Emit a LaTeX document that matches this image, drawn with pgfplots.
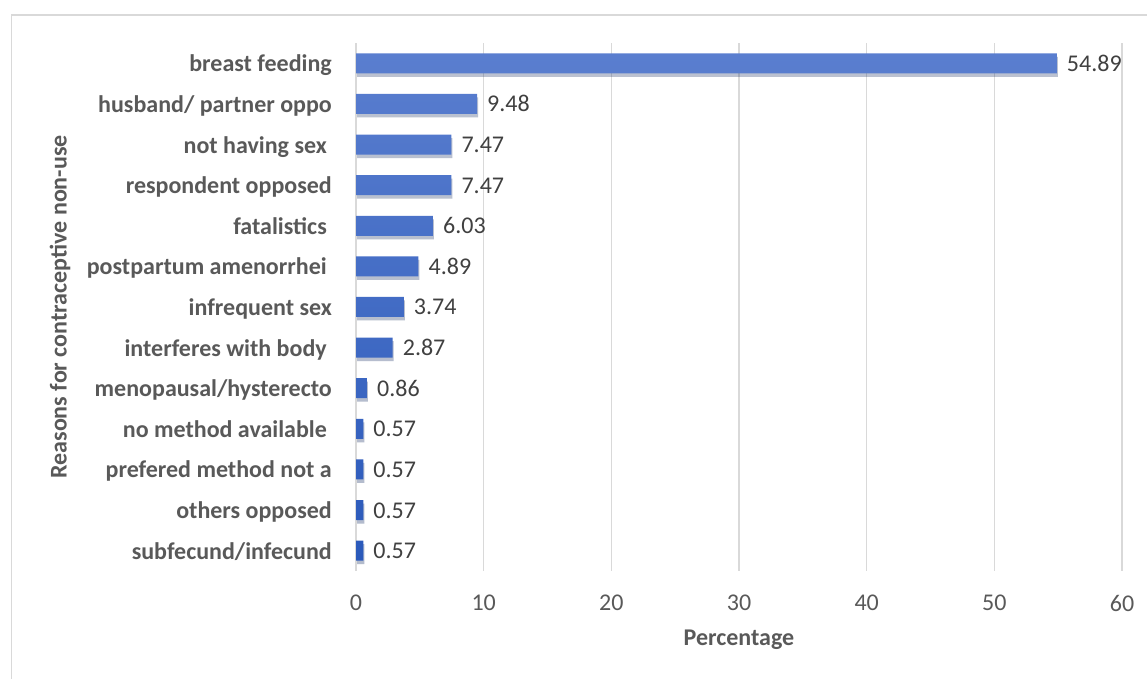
\documentclass[border=0pt]{standalone}
\usepackage{fontspec}
\setmainfont{Carlito}
\usepackage{pgfplots}
\pgfplotsset{compat=1.18}
\usetikzlibrary{shadows}
\definecolor{gridgray}{HTML}{D9D9D9}
\definecolor{labelgray}{HTML}{595959}
\definecolor{datagray}{HTML}{404040}
\definecolor{barlight}{HTML}{5A7ECF}
\definecolor{barmid}{HTML}{3E6BC6}
\definecolor{bardark}{HTML}{2A59BA}
\newcommand{\chartfont}{\fontsize{24bp}{28bp}\selectfont}
\begin{document}
\begin{tikzpicture}[x=1bp,y=1bp]
\path[use as bounding box] (0,0) rectangle (1147,679);
\draw[gridgray, line width=1.3bp] (11.5,-10) |- (1170,664);
\begin{axis}[
  at={(356bp,108bp)}, anchor=south west,
  width=766bp, height=528bp, scale only axis,
  xbar, bar width=20bp,
  xmin=0, xmax=60, ymin=-0.5, ymax=12.5,
  xtick={0,10,...,60},
  ytick={0,...,12},
  yticklabels={subfecund/infecund, others opposed, prefered method not a, no method available\kern5bp, menopausal/hysterecto, interferes with body\kern5bp, infrequent sex, postpartum amenorrhei\kern5bp, fatalistics\kern5bp, respondent opposed, not having sex\kern5bp, husband/ partner oppo, breast feeding},
  xmajorgrids, grid style={gridgray, line width=1.2bp},
  axis line style={draw=none}, tick style={draw=none}, major tick length=0pt,
  /pgf/number format/assume math mode=true,
  font=\chartfont,
  yticklabel style={font=\chartfont\bfseries, text=labelgray, anchor=base east, inner sep=0pt, xshift=-24bp, yshift=-8.5bp},
  xticklabel style={font=\chartfont, text=labelgray, anchor=center, yshift=-32bp},
  xlabel={Percentage}, ylabel={Reasons for contraceptive non-use},
  every axis x label/.style={at={(axis description cs:0.5,0)}, anchor=center, yshift=-69bp, font=\chartfont\bfseries, text=labelgray},
  every axis y label/.style={at={(axis description cs:-0.3864,0.5)}, rotate=90, anchor=center, font=\chartfont\bfseries, text=labelgray},
  nodes near coords={\pgfmathprintnumber[fixed,fixed zerofill,precision=2]{\pgfplotspointmeta}},
  point meta=x,
  nodes near coords style={anchor=base west, inner sep=0pt, xshift=10bp, yshift=-8bp, font=\chartfont, text=datagray},
]
\addplot[draw=none, top color=barlight, middle color=barmid, bottom color=bardark,
  drop shadow={shadow xshift=1bp, shadow yshift=-3.5bp, opacity=0.18, fill=black}]
coordinates {
(0.57,0) (0.57,1) (0.57,2) (0.57,3) (0.86,4) (2.87,5) (3.74,6) (4.89,7) (6.03,8) (7.47,9) (7.47,10) (9.48,11) (54.89,12)
};
\end{axis}
\end{tikzpicture}
\end{document}
